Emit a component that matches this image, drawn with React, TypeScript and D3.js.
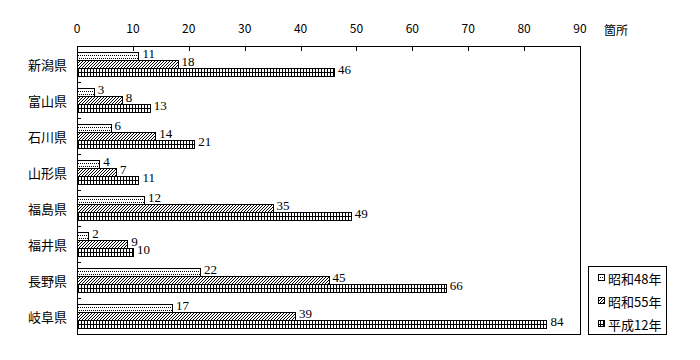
import React from "react";
import * as d3 from "d3";

const categories = ["新潟県", "富山県", "石川県", "山形県", "福島県", "福井県", "長野県", "岐阜県"];
const seriesNames = ["昭和48年", "昭和55年", "平成12年"];
const s48 = [11, 3, 6, 4, 12, 2, 22, 17];
const s55 = [18, 8, 14, 7, 35, 9, 45, 39];
const h12 = [46, 13, 21, 11, 49, 10, 66, 84];
const xTicks = [0, 10, 20, 30, 40, 50, 60, 70, 80, 90];
const unitLabel = "箇所";

const W = 700, H = 360;
const left = 77, right = 580, top = 46, bottom = 334;
const sans = "'Noto Sans CJK JP', sans-serif";
const serif = "'Liberation Serif', 'DejaVu Serif', serif";

export default function App() {
  const x = d3.scaleLinear().domain([0, 90]).range([left, right]);
  const y = d3.scaleBand<string>().domain(categories).range([top, bottom]);
  const bh = 8;
  const groupOff = 6;
  const series = [s48, s55, h12];
  const fills = ["url(#dots)", "url(#hatch)", "url(#grid)"];

  return (
    <svg width={W} height={H} style={{ position: "absolute", left: 0, top: 0, background: "#fff" }} shapeRendering="crispEdges">
      <defs>
        <pattern id="dots" width={2} height={6} patternUnits="userSpaceOnUse">
          <rect width={2} height={6} fill="#fff" />
          <rect x={0} y={1} width={1} height={1} fill="#000" />
          <rect x={1} y={4} width={1} height={1} fill="#000" />
        </pattern>
        <pattern id="hatch" width={3} height={3} patternUnits="userSpaceOnUse">
          <rect width={3} height={3} fill="#fff" />
          <rect x={0} y={2} width={1} height={1} fill="#000" />
          <rect x={1} y={1} width={1} height={1} fill="#000" />
          <rect x={2} y={0} width={1} height={1} fill="#000" />
        </pattern>
        <pattern id="grid" width={3} height={4} patternUnits="userSpaceOnUse">
          <rect width={3} height={4} fill="#fff" />
          <rect x={0} y={0} width={1} height={4} fill="#000" />
          <rect x={0} y={0} width={3} height={1} fill="#000" />
        </pattern>
      </defs>

      {/* frame */}
      <rect x={left + 0.5} y={top + 0.5} width={right - left} height={bottom - top} fill="none" stroke="#000" />

      {/* top ticks */}
      {xTicks.map((t) => (
        <g key={t}>
          {t > 0 && t < 90 && (
            <line x1={Math.round(x(t)) + 0.5} x2={Math.round(x(t)) + 0.5} y1={top} y2={top + 5} stroke="#000" />
          )}
          <text x={x(t)} y={33} textAnchor="middle" fontFamily={sans} fontSize={12} fill="#000">
            {t}
          </text>
        </g>
      ))}
      <text x={604} y={35} fontFamily={sans} fontSize={12} fill="#000">{unitLabel}</text>

      {/* left ticks at band boundaries */}
      {categories.slice(1).map((c) => (
        <line key={c} x1={left} x2={left + 4} y1={Math.round(y(c)!) + 0.5} y2={Math.round(y(c)!) + 0.5} stroke="#000" />
      ))}

      {/* category labels */}
      {categories.map((c) => (
        <text key={c} x={67} y={y(c)! + y.bandwidth() / 2} textAnchor="end" dominantBaseline="central" fontFamily={sans} fontSize={13} fill="#000">
          {c}
        </text>
      ))}

      {/* bars */}
      {series.map((vals, si) =>
        vals.map((v, i) => {
          const yt = Math.round(y(categories[i])! + groupOff + si * bh);
          const xe = x(v);
          return (
            <g key={`${si}-${i}`}>
              <rect x={left + 0.5} y={yt + 0.5} width={Math.round(xe - left)} height={bh} fill={fills[si]} stroke="#000" />
              <text x={xe + 4} y={yt + bh / 2 + 1.5} fontFamily={serif} fontSize={13} fill="#000" shapeRendering="auto">
                {v}
              </text>
            </g>
          );
        })
      )}

      {/* legend */}
      <rect x={588.5} y={266.5} width={78} height={68} fill="#fff" stroke="#000" />
      {seriesNames.map((n, i) => {
        const cy = 278 + i * 23;
        return (
          <g key={n}>
            <rect x={598.5} y={cy - 3.5} width={6} height={6} fill={fills[i]} stroke="#000" />
            <text x={608} y={cy} dominantBaseline="central" fontFamily={sans} fontSize={13} fill="#000">
              {n}
            </text>
          </g>
        );
      })}
    </svg>
  );
}
